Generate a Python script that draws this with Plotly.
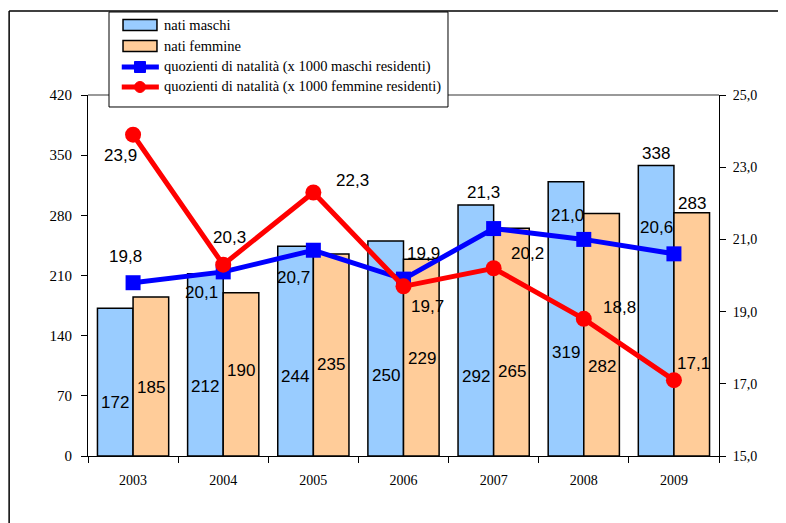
import plotly.graph_objects as go

# ---------------------------------------------------------------------------
# Data
# ---------------------------------------------------------------------------
ANNI = ["2003", "2004", "2005", "2006", "2007", "2008", "2009"]
NATI_MASCHI = [172, 212, 244, 250, 292, 319, 338]
NATI_FEMMINE = [185, 190, 235, 229, 265, 282, 283]
QUOZ_MASCHI = [19.8, 20.1, 20.7, 19.9, 21.3, 21.0, 20.6]
QUOZ_FEMMINE = [23.9, 20.3, 22.3, 19.7, 20.2, 18.8, 17.1]

SERIE = [
    "nati maschi",
    "nati femmine",
    "quozienti di natalità (x 1000 maschi residenti)",
    "quozienti di natalità (x 1000 femmine residenti)",
]

Y_TICKS = [0, 70, 140, 210, 280, 350, 420]
Y2_TICKS = [15, 17, 19, 21, 23, 25]

# label placement (left-axis units for bar labels, pixel offsets for line labels)
_LAB_Y_M = [62, 81, 92, 94, 92, 121, 352]
_LAB_Y_F = [80, 100, 106, 113, 98, 104, 294]
_OFF_M = [(-8, 26), (-22, -21), (-20, -27), (20, 26), (-10, 36), (-16, 24), (-17, 26)]
_OFF_F = [(-13, -21), (6, 27), (39, 12), (24, -20), (34, 15), (36, 11), (20, 17)]

_BLU_BAR = "#99CCFF"
_ARANCIO = "#FFCC99"
_BLU = "#0000FF"
_ROSSO = "#FF0000"
_SERIF = "Liberation Serif, Times New Roman, serif"
_SANS = "Liberation Sans, Arial, sans-serif"

pos = list(range(len(ANNI)))


def fmt(v):
    return f"{v:.1f}".replace(".", ",")


fig = go.Figure()

fig.add_trace(go.Bar(
    x=pos, y=NATI_MASCHI, name=SERIE[0],
    marker=dict(color=_BLU_BAR, line=dict(color="black", width=1.5)),
))
fig.add_trace(go.Bar(
    x=pos, y=NATI_FEMMINE, name=SERIE[1],
    marker=dict(color=_ARANCIO, line=dict(color="black", width=1.5)),
))
fig.add_trace(go.Scatter(
    x=pos, y=QUOZ_MASCHI, yaxis="y2", mode="lines+markers", name=SERIE[2],
    line=dict(color=_BLU, width=5),
    marker=dict(symbol="square", size=15, color=_BLU),
))
fig.add_trace(go.Scatter(
    x=pos, y=QUOZ_FEMMINE, yaxis="y2", mode="lines+markers", name=SERIE[3],
    line=dict(color=_ROSSO, width=5),
    marker=dict(symbol="circle", size=16, color=_ROSSO),
))

# ---------------------------------------------------------------------------
# Data labels
# ---------------------------------------------------------------------------
annots = []
for i in pos:
    annots.append(dict(x=i, y=_LAB_Y_M[i], xref="x", yref="y", xshift=-18,
                       text=str(NATI_MASCHI[i]), showarrow=False))
    annots.append(dict(x=i, y=_LAB_Y_F[i], xref="x", yref="y", xshift=18,
                       text=str(NATI_FEMMINE[i]), showarrow=False))
    annots.append(dict(x=i, y=QUOZ_MASCHI[i], xref="x", yref="y2",
                       xshift=_OFF_M[i][0], yshift=_OFF_M[i][1],
                       text=fmt(QUOZ_MASCHI[i]), showarrow=False))
    annots.append(dict(x=i, y=QUOZ_FEMMINE[i], xref="x", yref="y2",
                       xshift=_OFF_F[i][0], yshift=_OFF_F[i][1],
                       text=fmt(QUOZ_FEMMINE[i]), showarrow=False))
for a in annots:
    a["font"] = dict(family=_SANS, size=17, color="black")

# ---------------------------------------------------------------------------
# Hand-drawn legend box (plotly's own legend pushes the margins around)
# ---------------------------------------------------------------------------
shapes = [
    # grey top border of the plot area
    dict(type="line", xref="paper", yref="paper", x0=0, x1=1, y0=1, y1=1,
         line=dict(color="#999999", width=2), layer="below"),
    # outer frame (left and top edges)
    dict(type="line", xref="paper", yref="paper", x0=-0.125, x1=-0.125,
         y0=-0.3, y1=1.233, line=dict(color="black", width=1.5)),
    dict(type="line", xref="paper", yref="paper", x0=-0.125, x1=1.2,
         y0=1.233, y1=1.233, line=dict(color="black", width=1.5)),
    # legend box
    dict(type="rect", xref="paper", yref="paper", x0=0.0333, x1=0.5705,
         y0=0.9668, y1=1.2299, fillcolor="white",
         line=dict(color="black", width=1)),
]
leg_rows = [1.1939, 1.1357, 1.0776, 1.0222]
sym_x0, sym_x1 = 0.0555, 0.1093
for row, fill in zip(leg_rows[:2], [_BLU_BAR, _ARANCIO]):
    shapes.append(dict(type="rect", xref="paper", yref="paper",
                       x0=sym_x0, x1=sym_x1, y0=row - 0.0152, y1=row + 0.0152,
                       fillcolor=fill, line=dict(color="black", width=1.5)))
for row, col, kind in zip(leg_rows[2:], [_BLU, _ROSSO], ["rect", "circle"]):
    shapes.append(dict(type="line", xref="paper", yref="paper",
                       x0=sym_x0 - 0.002, x1=sym_x1 + 0.003, y0=row, y1=row,
                       line=dict(color=col, width=5)))
    shapes.append(dict(type=kind, xref="paper", yref="paper",
                       xsizemode="pixel", ysizemode="pixel",
                       xanchor=(sym_x0 + sym_x1) / 2, yanchor=row,
                       x0=-5.5, x1=5.5, y0=-5.5, y1=5.5,
                       fillcolor=col, line=dict(color=col, width=1)))
for row, nome in zip(leg_rows, SERIE):
    annots.append(dict(x=0.1173, y=row, xref="paper", yref="paper",
                       xanchor="left", yanchor="middle", text=nome,
                       showarrow=False,
                       font=dict(family=_SERIF, size=14.5, color="black")))

# the page body has an 8px margin, so the figure is drawn a bit smaller
fig.update_layout(
    width=778, height=515,
    margin=dict(l=80, r=67, t=87, b=67),
    paper_bgcolor="white", plot_bgcolor="white",
    separators=",.",
    showlegend=False,
    barmode="group", bargap=0.21, bargroupgap=0,
    annotations=annots,
    shapes=shapes,
    xaxis=dict(
        range=[-0.5, len(ANNI) - 0.5], tickvals=pos, ticktext=ANNI,
        showline=True, linecolor="black", linewidth=1,
        ticks="", ticklabelstandoff=11, showgrid=False, zeroline=False,
        minor=dict(tick0=0.5, dtick=1, ticks="outside", ticklen=6,
                   tickcolor="black", showgrid=False),
        tickfont=dict(family=_SERIF, size=14, color="black"),
    ),
    yaxis=dict(
        range=[0, 420], tickvals=Y_TICKS, showgrid=False, zeroline=False,
        showline=True, linecolor="black", linewidth=1,
        ticks="outside", ticklen=6, tickcolor="black", ticklabelstandoff=6,
        tickfont=dict(family=_SERIF, size=15, color="black"),
    ),
    yaxis2=dict(
        overlaying="y", side="right", range=[15, 25], tickvals=Y2_TICKS,
        tickformat=".1f", showgrid=False, zeroline=False,
        showline=True, linecolor="black", linewidth=1,
        ticks="outside", ticklen=6, tickcolor="black", ticklabelstandoff=4,
        tickfont=dict(family=_SERIF, size=14, color="black"),
    ),
)

fig.write_html("out.html")
